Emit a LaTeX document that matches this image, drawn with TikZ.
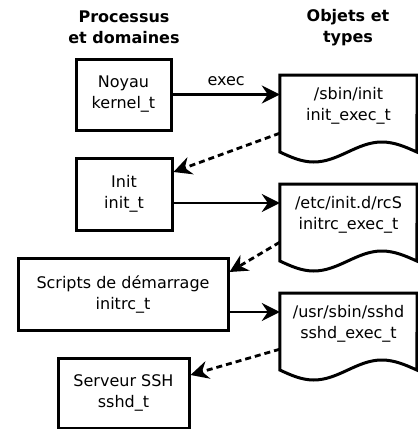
\documentclass[tikz,border=0pt]{standalone}
\usepackage{fontspec}
\setmainfont{DejaVu Sans}
\usetikzlibrary{arrows.meta}
\usetikzlibrary{calc}

\begin{document}
\begin{tikzpicture}[x=1pt,y=-1pt,
    every node/.style={font=\fontsize{16}{21}\selectfont},
    titre/.style={font=\fontsize{16}{21}\selectfont\bfseries,align=center},
    proc/.style={draw,line width=3pt,align=center,inner sep=0pt},
    doc/.style={anchor=north,minimum width=137pt,minimum height=62pt,align=center,inner sep=0pt},
    docline/.style={line width=3pt,line join=miter},
    fleche/.style={line width=2.8pt,-{Stealth[length=18pt,width=18pt,inset=6pt]}},
    trans/.style={fleche,dash pattern=on 6pt off 4pt}]
    \useasboundingbox (0,0) rectangle (418,429);

    % colonnes
    \node[titre] (proc) at (124,27.5) {Processus\\et domaines};
    \node[titre] (obj) at (348,27.5) {Objets et\\types};

    % processus
    \node[proc,minimum width=95pt,minimum height=71pt] (noyau) at (123.5,94.5) {Noyau\\kernel\_t};
    \node[proc,minimum width=96pt,minimum height=72pt] (init) at (124,194) {Init\\init\_t};
    \node[proc,minimum width=210pt,minimum height=72pt] (scripts) at (123,294) {Scripts de démarrage\\initrc\_t};
    \node[proc,minimum width=131pt,minimum height=70pt] (serveur) at (123.5,393) {Serveur SSH\\sshd\_t};

    % fichiers
    \node[doc] (sbin) at (348.5,75) {/sbin/init\\init\_exec\_t};
    \node[doc] (rcs) at (348.5,184) {/etc/init.d/rcS\\initrc\_exec\_t};
    \node[doc] (sshd) at (348.5,293) {/usr/sbin/sshd\\sshd\_exec\_t};
    \foreach \d in {sbin,rcs,sshd}
      \draw[docline] (\d.north west) -- ++(0,77) sin ++(34,10) cos ++(34,-10)
        sin ++(34,-10) cos ++(35,10) -- (\d.north east) -- cycle;

    % execution
    \coordinate (a1) at ([yshift=-9pt]init.east);
    \coordinate (a2) at ([yshift=-18pt]scripts.east);
    \draw[fleche] (noyau.east) -- node[above=4pt] (lexec) {exec} (noyau.east -| sbin.west);
    \draw[fleche] (a1) -- (a1 -| rcs.west);
    \draw[fleche] (a2) -- (a2 -| sshd.west);

    % transitions
    \draw[trans] ([yshift=-27pt]sbin.west) -- ([yshift=22pt]init.east);
    \draw[trans] ([yshift=-27pt]rcs.west) -- ([yshift=22pt]scripts.east);
    \draw[trans] ([yshift=-25pt]sshd.west) -- ([yshift=18pt]serveur.east);
\end{tikzpicture}
\end{document}
